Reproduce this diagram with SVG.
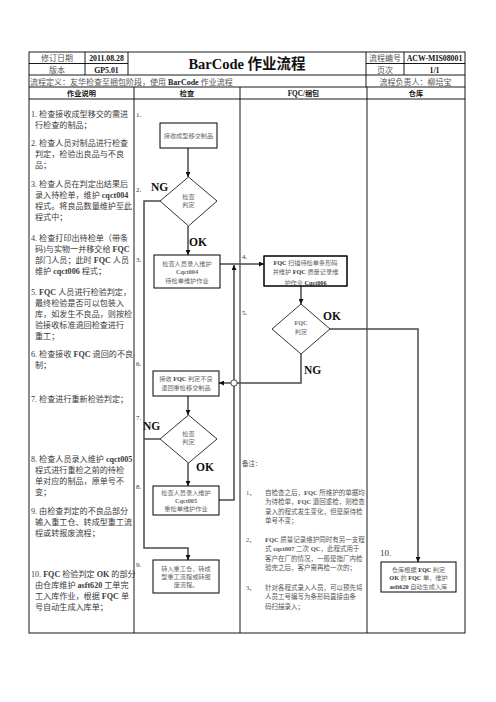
<svg xmlns="http://www.w3.org/2000/svg" width="496" height="702" viewBox="0 0 496 702">
<defs>
<style>
text{font-family:"Liberation Serif","Noto Sans CJK SC",serif}
.hd{font-size:8px;fill:#555}
.hc{text-anchor:middle}
.hv{font-size:7.8px;font-weight:bold;fill:#111;text-anchor:middle}
.col{font-size:7.2px;font-weight:bold;fill:#111;text-anchor:middle}
.d{font-size:8.1px;fill:#3a3a3a}
.b{font-weight:bold}
.bx{font-size:6.2px;fill:#666;text-anchor:middle}
.nt{font-size:6.5px;fill:#555}
.mk{font-size:7px;fill:#333}
.lb{font-size:11.5px;font-weight:bold;fill:#111}
.box{fill:#fff;stroke:#000;stroke-width:1}
.dia{fill:#fff;stroke:#000;stroke-width:0.8}
.cn{fill:none;stroke:#4a4a4a;stroke-width:1.5}
.ar{marker-end:url(#ah)}
.grid{stroke:#000;stroke-width:0.9;fill:none}
</style>
<marker id="ah" viewBox="0 0 10 10" refX="10" refY="5" markerWidth="6" markerHeight="5" orient="auto" markerUnits="userSpaceOnUse">
<path d="M0,0 L10,5 L0,10 z" fill="#111"/>
</marker>
<clipPath id="fqcclip"><rect x="264" y="256" width="83" height="30"/></clipPath>
</defs>
<rect width="496" height="702" fill="#fff"/>

<g id="table">
<rect class="grid" x="29" y="52" width="436" height="581" stroke-width="1.1"/>
<line class="grid" x1="29" y1="63.5" x2="128" y2="63.5"/>
<line class="grid" x1="366" y1="63.5" x2="465" y2="63.5"/>
<line class="grid" x1="29" y1="75" x2="465" y2="75"/>
<line class="grid" x1="29" y1="87" x2="465" y2="87"/>
<line class="grid" x1="29" y1="99" x2="465" y2="99"/>
<line class="grid" x1="85" y1="52" x2="85" y2="75"/>
<line class="grid" x1="128" y1="52" x2="128" y2="75"/>
<line class="grid" x1="366" y1="52" x2="366" y2="87"/>
<line class="grid" x1="404" y1="52" x2="404" y2="75"/>
<line class="grid" x1="134" y1="87" x2="134" y2="633"/>
<line class="grid" x1="240" y1="87" x2="240" y2="633"/>
<line class="grid" x1="367" y1="87" x2="367" y2="633"/>
</g>

<g id="header">
<text class="hd hc" x="57" y="61">修订日期</text>
<text class="hd hc" x="57" y="72.5">版本</text>
<text class="hv" x="106.5" y="61">2011.08.28</text>
<text class="hv" x="106.5" y="72.5">GP5.01</text>
<text x="247" y="69" text-anchor="middle" font-size="14.5" font-weight="bold" fill="#111">BarCode 作业流程</text>
<text class="hd hc" x="385" y="61">流程编号</text>
<text class="hd hc" x="385" y="72.5">页次</text>
<text class="hv" x="434.5" y="61">ACW-MIS08001</text>
<text class="hv" x="434.5" y="72.5">1/1</text>
<text class="hd" x="30" y="84.5">流程定义：友华检查至捆包阶段，使用 <tspan class="b" fill="#222">BarCode</tspan> 作业流程</text>
<text class="hd hc" x="415.5" y="84.5">流程负责人：柳培宝</text>
<text class="col" x="81.5" y="96">作业说明</text>
<text class="col" x="187" y="96">检查</text>
<text class="col" x="303.5" y="96">FQC/捆包</text>
<text class="col" x="416" y="96">仓库</text>
</g>

<g id="instructions" class="d">
<text x="31" y="117">1. 检查接收成型移交的需进</text>
<text x="35" y="128">行检查的制品；</text>
<text x="31" y="146">2. 检查人员对制品进行检查</text>
<text x="35" y="157">判定，检验出良品与不良</text>
<text x="35" y="168">品；</text>
<text x="31" y="187">3. 检查人员在判定出结果后</text>
<text x="35" y="198">录入待检单，维护 <tspan class="b">cqct004</tspan></text>
<text x="35" y="209">程式。将良品数量维护至此</text>
<text x="35" y="220">程式中；</text>
<text x="31" y="241">4. 检查打印出待检单（带条</text>
<text x="35" y="252">码)与实物一并移交给 <tspan class="b">FQC</tspan></text>
<text x="35" y="263">部门人员；此时 <tspan class="b">FQC</tspan> 人员</text>
<text x="35" y="274">维护 <tspan class="b">cqct006</tspan> 程式；</text>
<text x="31" y="295">5. <tspan class="b">FQC</tspan> 人员进行检验判定，</text>
<text x="35" y="306">最终检验是否可以包装入</text>
<text x="35" y="317">库，如发生不良品，则按检</text>
<text x="35" y="328">验接收标准退回检查进行</text>
<text x="35" y="339">重工；</text>
<text x="31" y="357">6. 检查接收 <tspan class="b">FQC</tspan> 退回的不良</text>
<text x="35" y="368">制；</text>
<text x="31" y="402">7. 检查进行重新检验判定；</text>
<text x="31" y="462">8. 检查人员录入维护 <tspan class="b">cqct005</tspan></text>
<text x="35" y="473">程式进行重检之前的待检</text>
<text x="35" y="484">单对应的制品，原单号不</text>
<text x="35" y="495">变；</text>
<text x="31" y="514">9. 由检查判定的不良品部分</text>
<text x="35" y="525">输入重工仓、转成型重工流</text>
<text x="35" y="536">程或转报废流程；</text>
<text x="31" y="577">10. <tspan class="b">FQC</tspan> 检验判定 <tspan class="b">OK</tspan> 的部分</text>
<text x="35" y="588">由仓库维护 <tspan class="b">asft620</tspan> 工单完</text>
<text x="35" y="599">工入库作业，根据 <tspan class="b">FQC</tspan> 单</text>
<text x="35" y="610">号自动生成入库单；</text>
</g>

<g id="step-markers" class="mk">
<text x="136" y="117">1.</text>
<text x="136" y="192">2.</text>
<text x="136" y="262">3.</text>
<text x="242" y="259">4.</text>
<text x="242" y="315">5.</text>
<text x="136" y="366">6.</text>
<text x="136" y="420">7.</text>
<text x="136" y="489">8.</text>
<text x="136" y="567">9.</text>
<text x="380" y="555.5" font-size="9">10.</text>
</g>

<g id="connectors">
<path class="cn ar" d="M188,148 V177"/>
<path class="cn ar" d="M188,226 V255"/>
<path class="cn ar" d="M220,264 H264"/>
<path class="cn ar" d="M219,500 H234 V265"/>
<path class="cn ar" d="M301,286 V304"/>
<path class="cn ar" d="M330,329 H418 V562"/>
<path class="cn ar" d="M301,354 V383 H219"/>
<path class="cn ar" d="M188,396 V415"/>
<path class="cn ar" d="M188,463 V486"/>
<path class="cn ar" d="M160,201 H144 V548 H188 V560"/>
<path class="cn" d="M160,439 H144"/>
<circle cx="234" cy="383" r="3.2" fill="#fff" stroke="#333" stroke-width="0.9"/>
</g>

<g id="labels" class="lb">
<text x="151" y="191">NG</text>
<text x="189" y="246">OK</text>
<text x="143" y="430">NG</text>
<text x="196" y="471">OK</text>
<text x="323" y="320">OK</text>
<text x="304" y="374">NG</text>
</g>

<g id="n1-receive">
<rect class="box" x="160" y="123" width="57" height="25"/>
<text class="bx" x="188.5" y="137.5">接收成型移交制品</text>
</g>

<g id="n2-check">
<polygon class="dia" points="188.5,177 217,201 188.5,226 160,201"/>
<text class="bx" x="188.5" y="198.5" fill="#777">检查</text>
<text class="bx" x="188.5" y="206.5" fill="#777">判定</text>
</g>

<g id="n3-cqct004">
<rect class="box" x="154" y="255" width="66" height="33"/>
<text class="bx" x="187" y="265.5">检查人员录入维护</text>
<text class="bx b" x="187" y="274" fill="#333">Cqct004</text>
<text class="bx" x="187" y="282.5">待检单维护作业</text>
</g>

<g id="n4-fqc-scan">
<rect class="box" x="264" y="256" width="83" height="30"/>
<g clip-path="url(#fqcclip)">
<text class="bx" x="305.5" y="265"><tspan class="b" fill="#333">FQC</tspan> 扫描待检单条形码</text>
<text class="bx" x="305.5" y="274">并维护 <tspan class="b" fill="#333">FQC</tspan> 质量记录维</text>
<text class="bx" x="305.5" y="284.5">护作业 <tspan class="b" fill="#333">Cqct006</tspan></text>
</g>
<rect x="264" y="256" width="83" height="30" fill="none" stroke="#000" stroke-width="1"/>
</g>

<g id="n5-fqc-judge">
<polygon class="dia" points="301,304 330,329 301,354 272,329"/>
<text class="bx b" x="301" y="325" fill="#555" font-size="5.8">FQC</text>
<text class="bx" x="301" y="333.5" fill="#777">判定</text>
</g>

<g id="n6-return">
<rect class="box" x="153" y="371" width="66" height="25"/>
<text class="bx" x="186" y="381">接收 <tspan class="b" fill="#333">FQC</tspan> 判定不良</text>
<text class="bx" x="186" y="390">退回重检移交制品</text>
</g>

<g id="n7-recheck">
<polygon class="dia" points="188.5,415 217,439 188.5,463 160,439"/>
<text class="bx" x="188.5" y="436" fill="#777">检查</text>
<text class="bx" x="188.5" y="444" fill="#777">判定</text>
</g>

<g id="n8-cqct005">
<rect class="box" x="153" y="486" width="66" height="29"/>
<text class="bx" x="186" y="495">检查人员录入维护</text>
<text class="bx b" x="186" y="503" fill="#333">Cqct005</text>
<text class="bx" x="186" y="511">重检单维护作业</text>
</g>

<g id="n9-rework">
<rect class="box" x="153" y="560" width="66" height="33"/>
<text class="bx" x="186" y="570.5">转入重工仓，转成</text>
<text class="bx" x="186" y="578.5">型重工流程或转报</text>
<text class="bx" x="186" y="586.5">废流程。</text>
</g>

<g id="n10-warehouse">
<rect class="box" x="381" y="562" width="75" height="30"/>
<text class="bx" x="418.5" y="571.5">仓库根据 <tspan class="b" fill="#333">FQC</tspan> 判定</text>
<text class="bx" x="418.5" y="580"><tspan class="b" fill="#333">OK</tspan> 的 <tspan class="b" fill="#333">FQC</tspan> 单，维护</text>
<text class="bx" x="418.5" y="588.5"><tspan class="b" fill="#333">asft620</tspan> 自动生成入库</text>
</g>

<g id="notes" class="nt">
<text x="242" y="465.5">备注：</text>
<text x="246" y="494.5">1、</text>
<text x="265" y="494.5">自检查之后，<tspan class="b">FQC</tspan> 所维护的单据均</text>
<text x="265" y="504">为待检单，<tspan class="b">FQC</tspan> 退回重检，则检查</text>
<text x="265" y="513.5">录入的程式发生变化，但是原待检</text>
<text x="265" y="523">单号不变；</text>
<text x="246" y="541.5">2、</text>
<text x="265" y="541.5"><tspan class="b">FQC</tspan> 质量记录维护同时有另一支程</text>
<text x="265" y="551">式 <tspan class="b">cqct007</tspan> 二次 <tspan class="b">QC</tspan>，此程式用于</text>
<text x="265" y="560.5">客户在厂的情况，一般是指厂内检</text>
<text x="265" y="570">验完之后，客户需再检一次的；</text>
<text x="246" y="589.5">3、</text>
<text x="265" y="589.5">针对各程式录入人员，可以预先将</text>
<text x="265" y="599">人员工号编写为条形码直接由条</text>
<text x="265" y="608.5">码扫描录入；</text>
</g>
</svg>
